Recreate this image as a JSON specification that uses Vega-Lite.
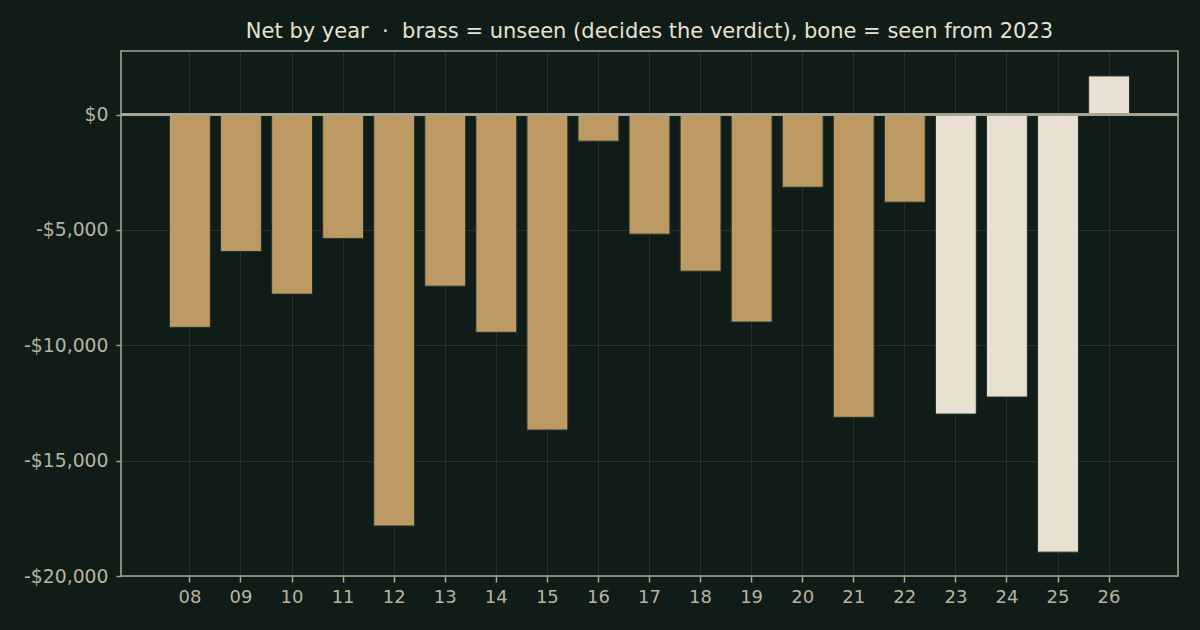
{
  "$schema": "https://vega.github.io/schema/vega-lite/v6.json",
  "autosize": {"type": "none"},
  "width": 1057,
  "height": 525,
  "padding": {"left": 121, "top": 51, "right": 22, "bottom": 54},
  "background": "#0f1c17",
  "title": {
    "text": "Net by year \u00a0·\u00a0 brass = unseen (decides the verdict), bone = seen from 2023",
    "color": "#e8e1d0",
    "font": "DejaVu Sans",
    "fontSize": 21,
    "fontWeight": "normal",
    "anchor": "middle",
    "offset": 9
  },
  "data": {
    "values": [
      {"year": "08", "net": -9220, "status": "unseen"},
      {"year": "09", "net": -5930, "status": "unseen"},
      {"year": "10", "net": -7780, "status": "unseen"},
      {"year": "11", "net": -5365, "status": "unseen"},
      {"year": "12", "net": -17830, "status": "unseen"},
      {"year": "13", "net": -7435, "status": "unseen"},
      {"year": "14", "net": -9437, "status": "unseen"},
      {"year": "15", "net": -13670, "status": "unseen"},
      {"year": "16", "net": -1150, "status": "unseen"},
      {"year": "17", "net": -5180, "status": "unseen"},
      {"year": "18", "net": -6785, "status": "unseen"},
      {"year": "19", "net": -8990, "status": "unseen"},
      {"year": "20", "net": -3145, "status": "unseen"},
      {"year": "21", "net": -13120, "status": "unseen"},
      {"year": "22", "net": -3795, "status": "unseen"},
      {"year": "23", "net": -12980, "status": "seen"},
      {"year": "24", "net": -12240, "status": "seen"},
      {"year": "25", "net": -18965, "status": "seen"},
      {"year": "26", "net": 1680, "status": "seen"}
    ]
  },
  "layer": [
    {
      "mark": {"type": "bar", "stroke": "#26332b", "strokeWidth": 1},
      "encoding": {
        "x": {
          "field": "year",
          "type": "ordinal",
          "sort": null,
          "title": null,
          "scale": {"paddingInner": 0.2, "paddingOuter": 0.95},
          "axis": {"grid": true, "bandPosition": 0.5, "labelAngle": 0, "tickSize": 6, "labelPadding": 6}
        },
        "y": {
          "field": "net",
          "type": "quantitative",
          "title": null,
          "scale": {"domain": [-20000, 2760], "nice": false, "zero": false},
          "axis": {
            "values": [-20000, -15000, -10000, -5000, 0],
            "tickSize": 5,
            "labelPadding": 8,
            "labelFontSize": 18.8,
            "labelExpr": "(datum.value < 0 ? '-' : '') + '$' + format(abs(datum.value), ',')"
          }
        },
        "color": {
          "field": "status",
          "type": "nominal",
          "scale": {"domain": ["unseen", "seen"], "range": ["#bd9a63", "#e8e1d1"]},
          "legend": null
        }
      }
    },
    {
      "mark": {"type": "rule", "color": "#a8a592", "strokeWidth": 1.6},
      "encoding": {"y": {"datum": 0}}
    }
  ],
  "config": {
    "view": {"stroke": "#a8a592", "strokeWidth": 1.6},
    "axis": {
      "domain": false,
      "zindex": 1,
      "gridColor": "#a8a592",
      "gridOpacity": 0.16,
      "gridWidth": 1,
      "tickColor": "#a8a592",
      "tickWidth": 1.5,
      "labelColor": "#b7b3a0",
      "labelFont": "DejaVu Sans",
      "labelFontSize": 18
    }
  }
}
